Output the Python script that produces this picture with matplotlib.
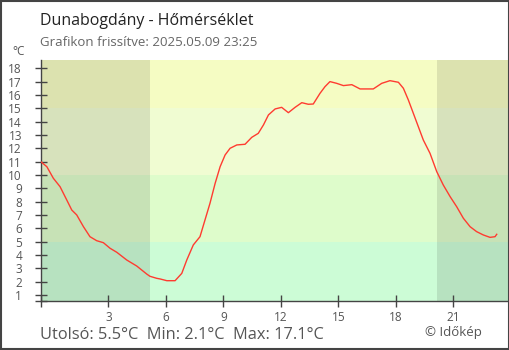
import matplotlib
matplotlib.use("Agg")
import matplotlib.pyplot as plt
from matplotlib.patches import Rectangle

plt.rcParams['font.family'] = ['Open Sans', 'DejaVu Sans']

# hours since midnight (starts the previous evening) and temperature in degC
hours = [-0.53, -0.21, 0.13, 0.48, 0.83, 1.09, 1.35, 1.70, 2.04, 2.39, 2.74, 3.09,
         3.44, 3.96, 4.48, 5.00, 5.17, 5.52, 5.70, 6.05, 6.48, 6.83, 7.09, 7.43,
         7.78, 8.04, 8.30, 8.57, 8.83, 9.09, 9.35, 9.70, 10.13, 10.48, 10.82, 11.09,
         11.35, 11.70, 12.04, 12.39, 12.74, 13.09, 13.43, 13.69, 14.04, 14.30, 14.56,
         14.91, 15.26, 15.70, 16.13, 16.82, 17.26, 17.69, 18.13, 18.39, 18.65, 18.91,
         19.17, 19.43, 19.78, 20.13, 20.47, 20.83, 21.17, 21.52, 21.87, 22.21, 22.56,
         22.91, 23.17, 23.26]
temps = [11.0, 10.62, 9.75, 9.12, 8.12, 7.37, 7.0, 6.12, 5.37, 5.07, 4.92, 4.5,
         4.2, 3.62, 3.17, 2.57, 2.4, 2.25, 2.2, 2.07, 2.07, 2.62, 3.62, 4.75,
         5.37, 6.62, 7.87, 9.37, 10.62, 11.5, 12.0, 12.25, 12.3, 12.82, 13.12, 13.75,
         14.5, 14.95, 15.07, 14.67, 15.07, 15.42, 15.3, 15.32, 16.12, 16.62, 17.0,
         16.87, 16.7, 16.77, 16.45, 16.45, 16.87, 17.07, 16.95, 16.5, 15.62, 14.62,
         13.62, 12.62, 11.62, 10.25, 9.25, 8.37, 7.62, 6.75, 6.12, 5.75, 5.5,
         5.32, 5.37, 5.55]

x_ticks = [3, 6, 9, 12, 15, 18, 21]
y_ticks = list(range(1, 19))

sunrise = 5.17
sunset = 20.15
# (low, high, colour) temperature bands
bands = [(-5, 5, '#ccfcd6'), (5, 10, '#defccb'), (10, 15, '#f0fcd2'), (15, 30, '#f5fcc3')]

xmin, xmax = -0.53, 23.9
ymin, ymax = 0.57, 18.62

fig = plt.figure(figsize=(5.1, 3.5), dpi=100)
ax = fig.add_axes([40.7 / 510, 1 - 300.7 / 350, (509 - 40.7) / 510, (300.7 - 60) / 350])

for lo, hi, col in bands:
    ax.axhspan(lo, hi, color=col, lw=0, zorder=0)
ax.axvspan(xmin - 1, sunrise, color='black', alpha=0.1, lw=0, zorder=1)
ax.axvspan(sunset, xmax + 1, color='black', alpha=0.1, lw=0, zorder=1)

ax.plot(hours, temps, color='#ff3b30', lw=1.0, zorder=3)

ax.set_xlim(xmin, xmax)
ax.set_ylim(ymin, ymax)

ax.set_xticks(x_ticks)
ax.set_xticks([xmin], minor=True)
ax.set_yticks(y_ticks)
ax.set_yticks([ymin], minor=True)
ax.tick_params(which='both', direction='inout', length=9, width=1.0, color='#444444',
               labelcolor='#555555', labelsize=8.5)
ax.tick_params(axis='y', pad=9)
ax.tick_params(axis='x', pad=3)

for side in ['top', 'right']:
    ax.spines[side].set_visible(False)
for side in ['left', 'bottom']:
    ax.spines[side].set_color('#444444')
    ax.spines[side].set_linewidth(1.0)

fig.text(40 / 510, 1 - 25 / 350, 'Dunabogdány - Hőmérséklet', fontsize=11.5, color='#222222')
fig.text(40 / 510, 1 - 46 / 350, 'Grafikon frissítve: 2025.05.09 23:25', fontsize=9.5, color='#666666')
fig.text(12 / 510, 1 - 55 / 350, '°C', fontsize=8.5, color='#555555')
fig.text(40 / 510, 1 - 339 / 350, 'Utolsó: 5.5°C  Min: 2.1°C  Max: 17.1°C', fontsize=11.8, color='#555555')
fig.text(482 / 510, 1 - 336 / 350, '© Időkép', fontsize=9.5, color='#555555', ha='right')

fig.patches.append(Rectangle((0.001, 0.0015), 0.998, 0.997, transform=fig.transFigure,
                             fill=False, edgecolor='#444444', lw=1.5))

fig.savefig('out.png', dpi=100)
